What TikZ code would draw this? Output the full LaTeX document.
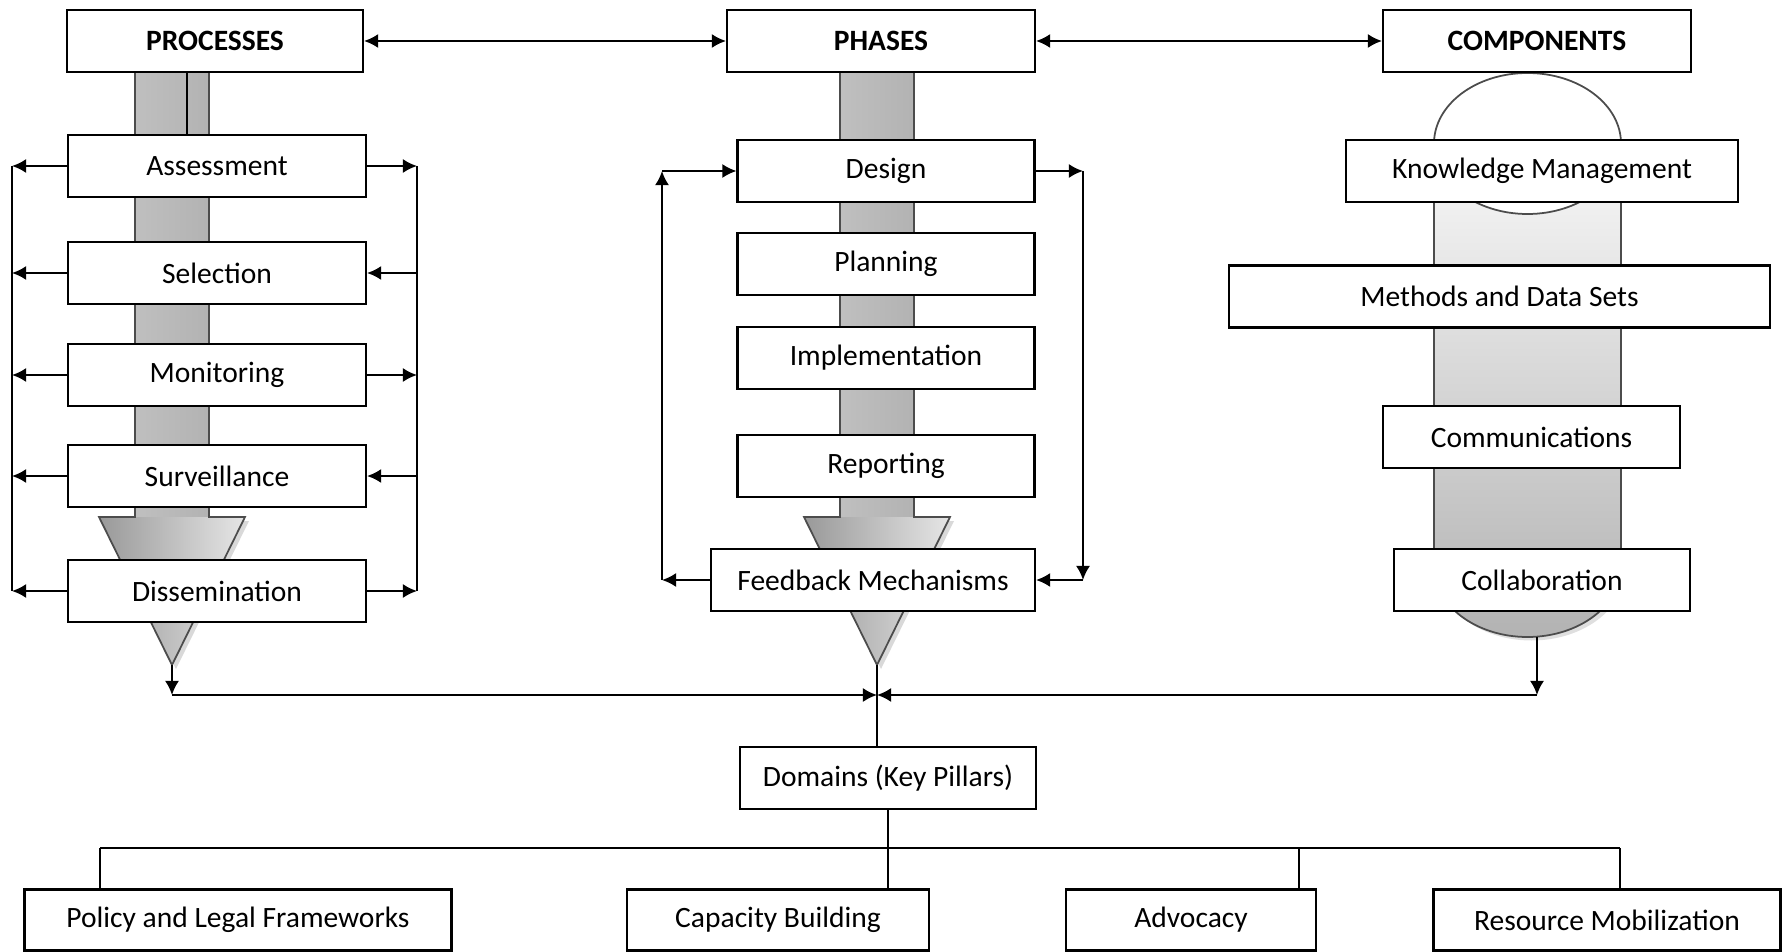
\documentclass[tikz,border=0pt]{standalone}
\usepackage{fontspec}
\setmainfont{Carlito}
\usepackage{tikz}
\usetikzlibrary{arrows.meta,positioning,calc}

\begin{document}
\begin{tikzpicture}[x=0.1mm,y=-0.1mm,
  font=\fontsize{8.4pt}{10pt}\selectfont,
  box/.style={draw, line width=0.6pt, fill=white, minimum height=6.2mm, inner sep=2pt},
  head/.style={box, font=\fontsize{8.4pt}{10pt}\selectfont\bfseries},
  arr/.style={-{Latex[length=4pt,width=4pt]}, line width=0.6pt},
  twoarr/.style={{Latex[length=4pt,width=4pt]}-{Latex[length=4pt,width=4pt]}, line width=0.6pt},
  link/.style={line width=0.5pt}]
  \useasboundingbox (0,0) rectangle (1788,952);

  \foreach \c in {172,877} {
    \fill[gray!30] (\c-70,521) -- (\c+77,521) -- (\c+4,669) -- cycle;
    \shade[left color=gray!50, middle color=gray!25, right color=gray!60] (\c-37,73) rectangle (\c+37,517);
    \shade[left color=gray!80, right color=gray!20] (\c-73,517) -- (\c+73,517) -- (\c,665) -- cycle;
    \draw[gray!60!black, line width=0.5pt] (\c-37,73) -- (\c-37,517) -- (\c-73,517) -- (\c,665) -- (\c+73,517) -- (\c+37,517) -- (\c+37,73);
  }

  \fill[gray!25] (1438,570) arc (180:0:93.5 and 70.5) -- cycle;
  \draw[gray!60!black, line width=0.5pt, top color=gray!5, bottom color=gray!60]
    (1434,143.5) -- (1434,566.5) arc (180:0:93.5 and 70.5) -- (1621,143.5);
  \draw[gray!60!black, line width=0.5pt, fill=white] (1527.5,143.5) ellipse (93.5 and 70.5);

  \node[head, minimum width=29.6mm] (proc) at (215,41) {PROCESSES};
  \node[head, minimum width=30.8mm] (phas) at (881,41) {PHASES};
  \node[head, minimum width=30.8mm] (comp) at (1537,41) {COMPONENTS};

  \foreach \n/\y/\t in {ass/166/Assessment, sel/273/Selection, mon/375/Monitoring,
                        sur/476/Surveillance, dis/591/Dissemination}
    \node[box, minimum width=29.8mm] (\n) at (217,\y) {\t};

  \foreach \n/\y/\t in {des/171/Design, pla/264/Planning, imp/358/Implementation, rep/466/Reporting}
    \node[box, minimum width=29.7mm] (\n) at (886,\y) {\t};
  \node[box, minimum width=32.4mm] (fb) at (873,580) {Feedback Mechanisms};

  \node[box, minimum width=39.2mm] (km) at (1542,171) {Knowledge Management};
  \node[box, minimum width=54.1mm] (meth) at (1499.5,296.5) {Methods and Data Sets};
  \node[box, minimum width=29.7mm] (comm) at (1531.5,437) {Communications};
  \node[box, minimum width=29.6mm] (coll) at (1542,580) {Collaboration};

  \node[box, minimum width=29.6mm] (dom) at (888,778) {Domains (Key Pillars)};

  \node[box, minimum width=42.7mm, minimum height=6.1mm] (pol) at (238,920) {Policy and Legal Frameworks};
  \node[box, minimum width=30.2mm, minimum height=6.1mm] (cap) at (778,920) {Capacity Building};
  \node[box, minimum width=25.0mm, minimum height=6.1mm] (adv) at (1191,920) {Advocacy};
  \node[box, minimum width=34.7mm, minimum height=6.1mm] (res) at (1607,920) {Resource Mobilization};

  \draw[twoarr] (proc) -- (phas);
  \draw[twoarr] (phas) -- (comp);

  \coordinate (pline) at (187,0);
  \draw[line width=0.6pt] (proc.south -| pline) -- (ass.north -| pline);

  \coordinate (pl) at (12,0);
  \coordinate (pr) at (417,0);
  \foreach \n in {ass,sel,mon,sur,dis}
    \draw[arr] (\n.west) -- (\n.west -| pl);
  \foreach \n in {ass,mon,dis}
    \draw[arr] (\n.east) -- (\n.east -| pr);
  \foreach \n in {sel,sur}
    \draw[arr] (\n.east -| pr) -- (\n.east);
  \draw[line width=0.6pt] (ass.west -| pl) -- (dis.west -| pl);
  \draw[line width=0.6pt] (ass.east -| pr) -- (dis.east -| pr);

  \coordinate (ql) at (662,0);
  \coordinate (qr) at (1083,0);
  \draw[arr] (fb.west) -- (fb.west -| ql);
  \draw[arr] (fb.west -| ql) -- (des.west -| ql);
  \draw[arr] (des.west -| ql) -- (des.west);
  \draw[arr] (des.east) -- (des.east -| qr);
  \draw[arr] (des.east -| qr) -- (fb.east -| qr);
  \draw[arr] (fb.east -| qr) -- (fb.east);

  \coordinate (ptip) at (172,665);
  \coordinate (qtip) at (877,665);
  \coordinate (cbot) at (1537,637);
  \coordinate (bus) at (0,695);
  \draw[arr] (ptip) -- (ptip |- bus);
  \draw[arr] (ptip |- bus) -- (qtip |- bus);
  \draw[arr] (cbot) -- (cbot |- bus);
  \draw[arr] (cbot |- bus) -- (qtip |- bus);
  \draw[link] (qtip) -- (qtip |- dom.north);

  \coordinate (t1) at (100,848);
  \coordinate (t3) at (1299,848);
  \coordinate (t4) at (1620,848);
  \draw[link] (dom.south) -- (dom.south |- t1);
  \draw[link] (t1) -- (t4);
  \draw[link] (t1) -- (t1 |- pol.north);
  \draw[link] (dom.south |- t1) -- (dom.south |- cap.north);
  \draw[link] (t3) -- (t3 |- adv.north);
  \draw[link] (t4) -- (t4 |- res.north);
\end{tikzpicture}
\end{document}
